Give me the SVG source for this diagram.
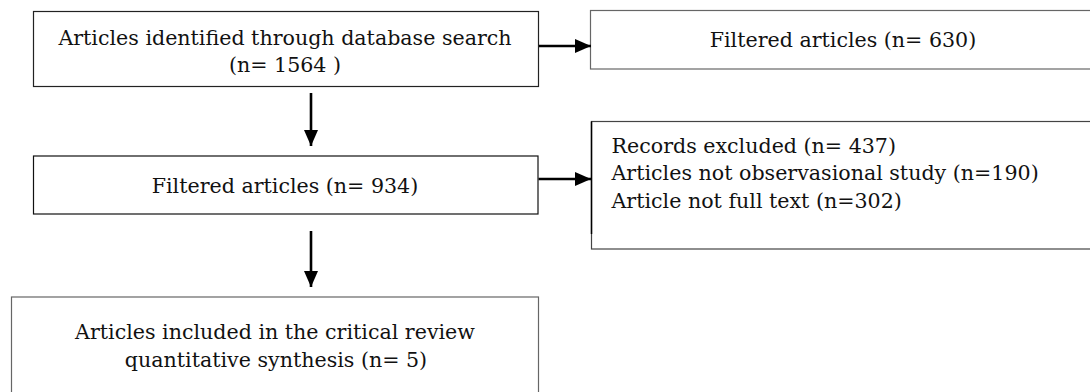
<svg xmlns="http://www.w3.org/2000/svg" width="1090" height="392" viewBox="0 0 1090 392">
<style>
  .box { fill: #ffffff; stroke-width: 1.2; }
  .t { font-family: "DejaVu Serif", "Liberation Serif", serif; font-size: 20.6px; fill: #111; }
  .c { text-anchor: middle; }
  .conn { stroke: #000; stroke-width: 2.6; fill: none; marker-end: url(#ah); }
</style>
<defs>
  <marker id="ah" markerUnits="userSpaceOnUse" markerWidth="16" markerHeight="14" refX="16" refY="7" orient="auto">
    <path d="M0,0 L16,7 L0,14 z" fill="#000"/>
  </marker>
</defs>
<rect width="1090" height="392" fill="#ffffff"/>
<g id="node-identified">
  <rect class="box" x="33.5" y="11.5" width="505" height="75" stroke="#222"/>
  <text class="t c" x="285" y="44.5">Articles identified through database search</text>
  <text class="t c" x="285" y="72">(n= 1564 )</text>
</g>
<g id="node-filtered-630">
  <rect class="box" x="590.5" y="10.5" width="510" height="58.5" stroke="#666"/>
  <text class="t c" x="843" y="47">Filtered articles (n= 630)</text>
</g>
<g id="node-filtered-934">
  <rect class="box" x="33.5" y="156" width="504.5" height="58" stroke="#111"/>
  <text class="t c" x="285" y="193">Filtered articles (n= 934)</text>
</g>
<g id="node-excluded">
  <rect class="box" x="591.5" y="121.5" width="510" height="127.5" stroke="#444"/>
  <line x1="591.5" y1="121.5" x2="591.5" y2="234" stroke="#000" stroke-width="1.5"/>
  <text class="t" x="611.5" y="152.7">Records excluded (n= 437)</text>
  <text class="t" x="611.5" y="180.3">Articles not observasional study (n=190)</text>
  <text class="t" x="611.5" y="207.7">Article not full text (n=302)</text>
</g>
<g id="node-included">
  <rect class="box" x="11.5" y="297" width="527" height="110" stroke="#666"/>
  <text class="t c" x="275" y="339">Articles included in the critical review</text>
  <text class="t c" x="276" y="367">quantitative synthesis (n= 5)</text>
</g>
<g id="connectors">
  <line class="conn" x1="539" y1="46" x2="591" y2="46"/>
  <line class="conn" x1="311" y1="93" x2="311" y2="146"/>
  <line class="conn" x1="538.5" y1="179" x2="591" y2="179"/>
  <line class="conn" x1="311" y1="231" x2="311" y2="287"/>
</g>
</svg>
